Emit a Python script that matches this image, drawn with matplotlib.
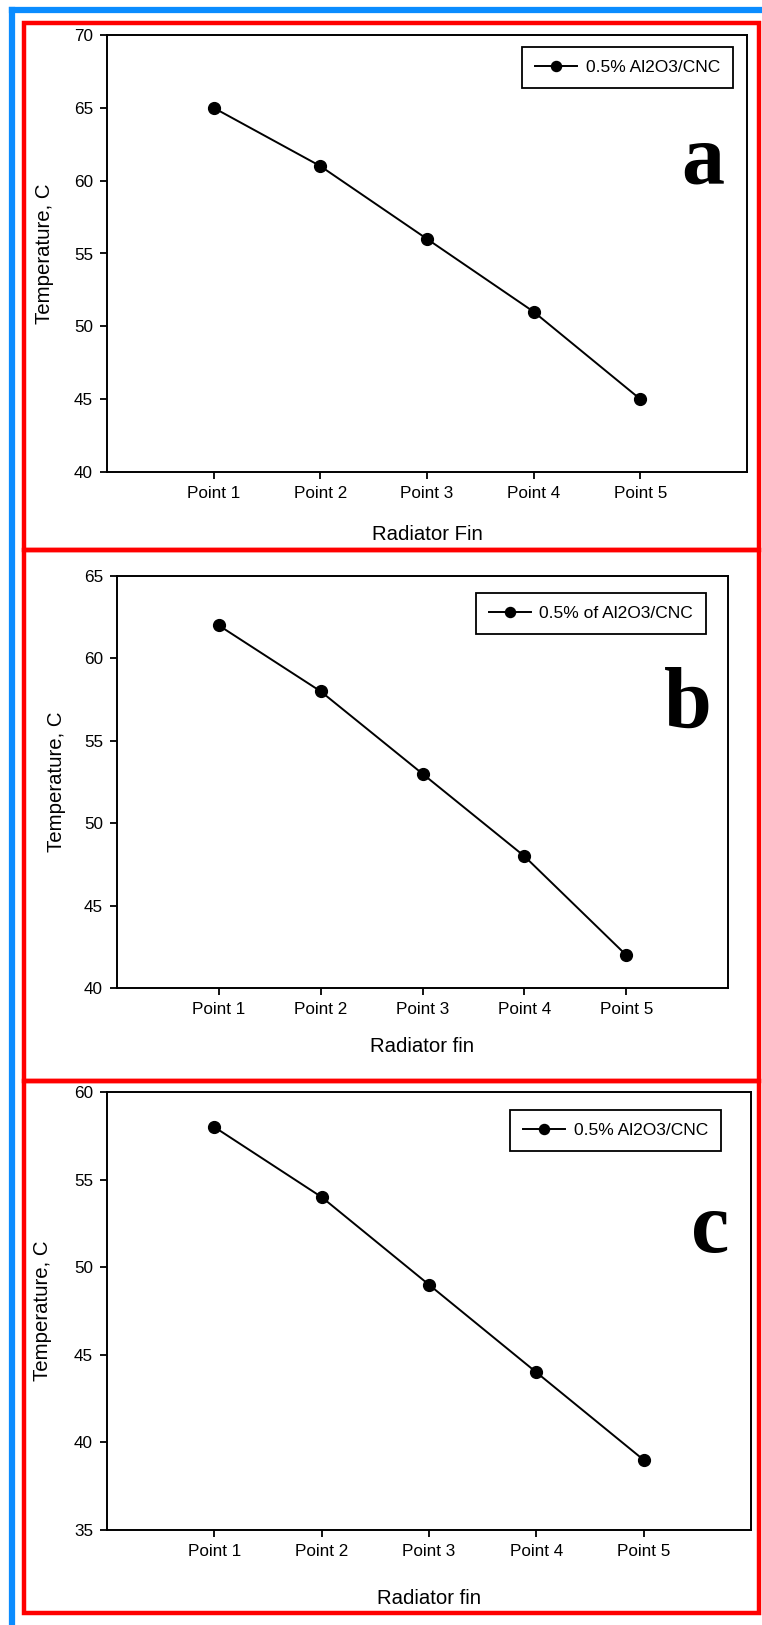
import matplotlib
matplotlib.use("Agg")
import matplotlib.pyplot as plt
from matplotlib.patches import Rectangle
from matplotlib.lines import Line2D

plt.rcParams['font.family'] = ['Liberation Sans', 'DejaVu Sans']

# data
points = ["Point 1", "Point 2", "Point 3", "Point 4", "Point 5"]
temp_a = [65, 61, 56, 51, 45]
temp_b = [62, 58, 53, 48, 42]
temp_c = [58, 54, 49, 44, 39]
legend_a = "0.5% Al2O3/CNC"
legend_b = "0.5% of Al2O3/CNC"
legend_c = "0.5% Al2O3/CNC"
xlabel_a = "Radiator Fin"
xlabel_b = "Radiator fin"
xlabel_c = "Radiator fin"
ylabel = "Temperature, C"

W, H = 762, 1625
fig = plt.figure(figsize=(W / 100, H / 100), dpi=100)


def box(left, top, right, bottom):
    # pixel box -> figure fraction rect
    return [left / W, 1 - bottom / H, (right - left) / W, (bottom - top) / H]


def panel(rect_px, temps, ylim, label, leg_text, leg_px, letter, letter_px,
          ylab_x, xlab_y, xlab):
    left, top, right, bottom = rect_px
    ax = fig.add_axes(box(*rect_px))
    x = range(1, len(points) + 1)
    ax.plot(x, temps, color='black', lw=1.4, marker='o', ms=8.5, label=leg_text)
    ax.set_xlim(0, 6)
    ax.set_ylim(*ylim)
    ax.set_yticks(range(ylim[0], ylim[1] + 1, 5))
    ax.set_xticks(list(x))
    ax.set_xticklabels(points)
    ax.tick_params(direction='out', length=5, width=1.3, labelsize=12.3, pad=5,
                   colors='black')
    for s in ax.spines.values():
        s.set_linewidth(1.4)
    w = right - left
    h = bottom - top
    ax.set_ylabel(ylabel, fontsize=14.7, va='center')
    ax.yaxis.set_label_coords((ylab_x - left) / w, 0.5)
    ax.set_xlabel(xlab, fontsize=14.7, va='center')
    ax.xaxis.set_label_coords(0.5, (bottom - xlab_y) / h)
    lr, lt = leg_px
    leg = ax.legend(loc='upper right', bbox_to_anchor=((lr - left) / w, (bottom - lt) / h),
                    borderaxespad=0, fancybox=False, edgecolor='black', framealpha=1,
                    fontsize=12.5, handlelength=2.4, handletextpad=0.5, borderpad=0.75,
                    markerscale=0.85)
    leg.get_frame().set_linewidth(1.3)
    lx, ly = letter_px
    ax.text((lx - left) / w, (bottom - ly) / h, letter, transform=ax.transAxes,
            ha='center', va='baseline', fontsize=62, fontweight='bold',
            family='Liberation Serif')
    return ax


panel((107, 35, 747, 472), temp_a, (40, 70), 'a', legend_a, (733, 47), 'a', (703, 183),
      44, 534, xlabel_a)
panel((117, 576, 728, 988), temp_b, (40, 65), 'b', legend_b, (706, 593), 'b', (688, 727),
      56, 1046, xlabel_b)
panel((107, 1092, 751, 1530), temp_c, (35, 60), 'c', legend_c, (721, 1110), 'c', (710, 1252),
      43, 1599, xlabel_c)

# blue outer lines (top and left)
blue = '#0A8CFF'
fig.add_artist(Line2D([11.5 / W, 1], [1 - 10 / H, 1 - 10 / H], color=blue, lw=4.5,
                      transform=fig.transFigure))
fig.add_artist(Line2D([11.5 / W, 11.5 / W], [0, 1 - 10 / H], color=blue, lw=4.5,
                      transform=fig.transFigure))

# red panel frames
for top, bottom in [(23, 550), (550, 1081), (1081, 1613)]:
    fig.add_artist(Rectangle((24 / W, 1 - bottom / H), (759 - 24) / W, (bottom - top) / H,
                             transform=fig.transFigure, fill=False, edgecolor='#FF0000',
                             lw=3.2))

fig.savefig("out.png", dpi=100)
